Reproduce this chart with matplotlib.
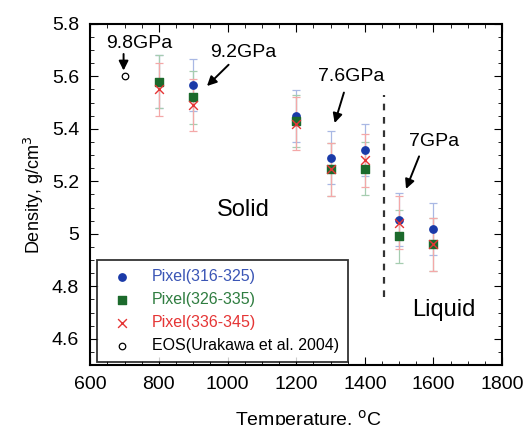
# Density vs temperature, three pixel ranges + EOS reference point

import matplotlib
matplotlib.use("Agg")
import matplotlib.pyplot as plt
from matplotlib.ticker import MultipleLocator

plt.rcParams["font.family"] = ["Liberation Sans", "DejaVu Sans"]

# --- Data ---
temp = [800, 900, 1200, 1300, 1400, 1500, 1600]
dens_316 = [5.58, 5.567, 5.448, 5.29, 5.32, 5.054, 5.018]
dens_326 = [5.58, 5.52, 5.43, 5.245, 5.248, 4.99, 4.96]
dens_336 = [5.55, 5.49, 5.42, 5.245, 5.28, 5.043, 4.96]
err = [0.1, 0.1, 0.1, 0.1, 0.1, 0.1, 0.1]
eos_temp = [700]
eos_dens = [5.60]

# pressure labels: (text, text pos, arrow tail, arrow head)
labels = [
    ("9.8GPa", (743, 5.726), (697, 5.685), (697, 5.622)),
    ("9.2GPa", (1047, 5.69), (1003, 5.644), (940, 5.563)),
    ("7.6GPa", (1359, 5.60), (1339, 5.538), (1312, 5.422)),
    ("7GPa", (1601, 5.352), (1558, 5.295), (1520, 5.171)),
]

# --- Plot ---
fig = plt.figure(figsize=(5.28, 4.25), dpi=100)
ax = fig.add_axes([0.171, 0.141, 0.78, 0.803])

series = [
    (dens_316, "o", "#1a3aa8", "#a9b8e4", "Pixel(316-325)", "#3a55b5"),
    (dens_326, "s", "#1c6a2c", "#a6cdb0", "Pixel(326-335)", "#2f7d40"),
    (dens_336, "x", "#e53535", "#f4a8a8", "Pixel(336-345)", "#e53535"),
]
handles = []
for y, m, c, ec, lab, tc in series:
    ax.errorbar(temp, y, yerr=err, fmt="none", ecolor=ec, elinewidth=0.9,
                capsize=3, capthick=0.9, zorder=1)
    h = ax.scatter(temp, y, marker=m, color=c, s=28 if m != "x" else 40,
                   linewidths=1.0, zorder=3, label=lab)
    handles.append((h, tc))
h_eos = ax.scatter(eos_temp, eos_dens, marker="o", facecolors="white",
                   edgecolors="black", s=22, linewidths=0.9, zorder=3,
                   label="EOS(Urakawa et al. 2004)")
handles.append((h_eos, "black"))

# solid / liquid boundary
ax.plot([1455, 1455], [4.76, 5.53], ls=(0, (3, 3)), color="#333333", lw=1.6)

ax.set_xlim(600, 1800)
ax.set_ylim(4.5, 5.8)
ax.xaxis.set_major_locator(MultipleLocator(200))
ax.xaxis.set_minor_locator(MultipleLocator(50))
ax.yaxis.set_minor_locator(MultipleLocator(0.05))
ax.set_yticks([4.6, 4.8, 5.0, 5.2, 5.4, 5.6, 5.8])
ax.set_yticklabels(["4.6", "4.8", "5", "5.2", "5.4", "5.6", "5.8"])
ax.tick_params(which="both", direction="in", top=True, right=True,
               labelsize=14, pad=8)
ax.tick_params(which="major", length=6)
ax.tick_params(which="minor", length=3)
for s in ax.spines.values():
    s.set_linewidth(1.5)

ax.set_xlabel("Temperature, $^{\\rm o}$C", fontsize=14, labelpad=12)
ax.xaxis.set_label_coords(0.53, -0.125)
ax.set_ylabel("Density, g/cm$^3$", fontsize=13, labelpad=4)

arrow = dict(arrowstyle="-|>", color="black", lw=1.4, mutation_scale=14,
             shrinkA=0, shrinkB=0)
for txt, tpos, tail, head in labels:
    ax.text(tpos[0], tpos[1], txt, fontsize=14, ha="center", va="center")
    ax.annotate("", xy=head, xytext=tail, arrowprops=arrow)

ax.text(1047, 5.09, "Solid", fontsize=17, ha="center", va="center")
ax.text(1631, 4.71, "Liquid", fontsize=17, ha="center", va="center")

leg = ax.legend(loc="lower left", bbox_to_anchor=(0.005, -0.005),
                fontsize=11.5, frameon=True, fancybox=False,
                edgecolor="black", handletextpad=0.9, borderpad=0.55,
                labelspacing=0.5, scatterpoints=1, borderaxespad=0.3)
leg.get_frame().set_linewidth(1.3)
for txt, (h, tc) in zip(leg.get_texts(), handles):
    txt.set_color(tc)

fig.savefig("out.png", dpi=100)
